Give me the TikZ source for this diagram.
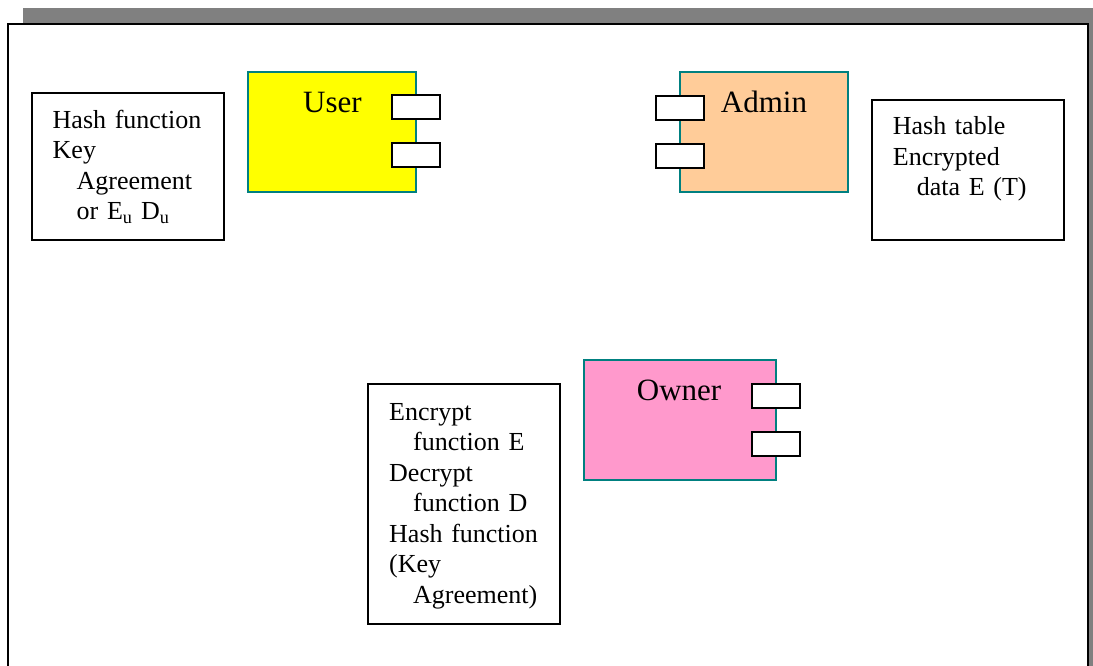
\documentclass[tikz,border=0pt]{standalone}
\usepackage{fontspec}
\setmainfont{Liberation Serif}
\definecolor{compedge}{HTML}{008080}
\definecolor{userfill}{HTML}{FFFF00}
\definecolor{adminfill}{HTML}{FFCC99}
\definecolor{ownerfill}{HTML}{FF99CC}
\definecolor{shadow}{HTML}{808080}
\begin{document}
\begin{tikzpicture}[x=1pt,y=-1pt,
  comp/.style={draw=compedge, line width=2pt, inner sep=0pt,
    minimum width=168pt, minimum height=120pt},
  port/.style={draw=black, fill=white, line width=2pt, inner sep=0pt,
    minimum width=48pt, minimum height=24pt},
  note/.style={draw=black, line width=2pt, inner sep=0pt},
  notetext/.style={anchor=base west, inner sep=0pt, text width=180pt, align=left,
    font=\fontsize{26}{30.5}\selectfont},
  title/.style={inner sep=0pt, font=\fontsize{31}{36}\selectfont}]
\useasboundingbox (0,0) rectangle (1093,666);
\clip (0,0) rectangle (1093,666);
% page with drop shadow
\fill[shadow] (23,8) rectangle (1093,700);
\draw[line width=2pt, fill=white] (8,24) rectangle (1087.5,700);

% notes
\node[note, minimum width=192pt, minimum height=147pt] (unote) at (128,166.5) {};
\node[notetext] (unotetext) at (52.5,128.3)
  {Hash function\\Key\\\hspace*{24pt}Agreement\\\hspace*{24pt}or E\textsubscript{u} D\textsubscript{u}};

\node[note, minimum width=192pt, minimum height=140pt] (anote) at (968,170) {};
\node[notetext] (anotetext) at (892.7,135)
  {Hash table\\Encrypted\\\hspace*{24pt}data E (T)};

\node[note, minimum width=192.5pt, minimum height=240pt] (onote) at (463.75,504) {};
\node[notetext] (onotetext) at (389,420)
  {Encrypt\\\hspace*{24pt}function E\\Decrypt\\\hspace*{24pt}function D\\Hash function\\(Key\\\hspace*{24pt}Agreement)};

% components
\node[comp, fill=userfill] (user) at (332,132) {};
\node[title, anchor=base] (userlabel) at (332.5,112.7) {User};
\node[port] (up1) at (415.5,107.5) {};
\node[port] (up2) at (415.5,155.5) {};

\node[comp, fill=adminfill] (admin) at (764,132) {};
\node[title, anchor=base west] (adminlabel) at (720.7,112.7) {Admin};
\node[port] (ap1) at (680,108) {};
\node[port] (ap2) at (680,156) {};

\node[comp, fill=ownerfill, minimum width=192pt] (owner) at (680,420) {};
\node[title, anchor=base west] (ownerlabel) at (636.7,400.7) {Owner};
\node[port] (op1) at (776,396) {};
\node[port] (op2) at (776,444) {};
\end{tikzpicture}
\end{document}
